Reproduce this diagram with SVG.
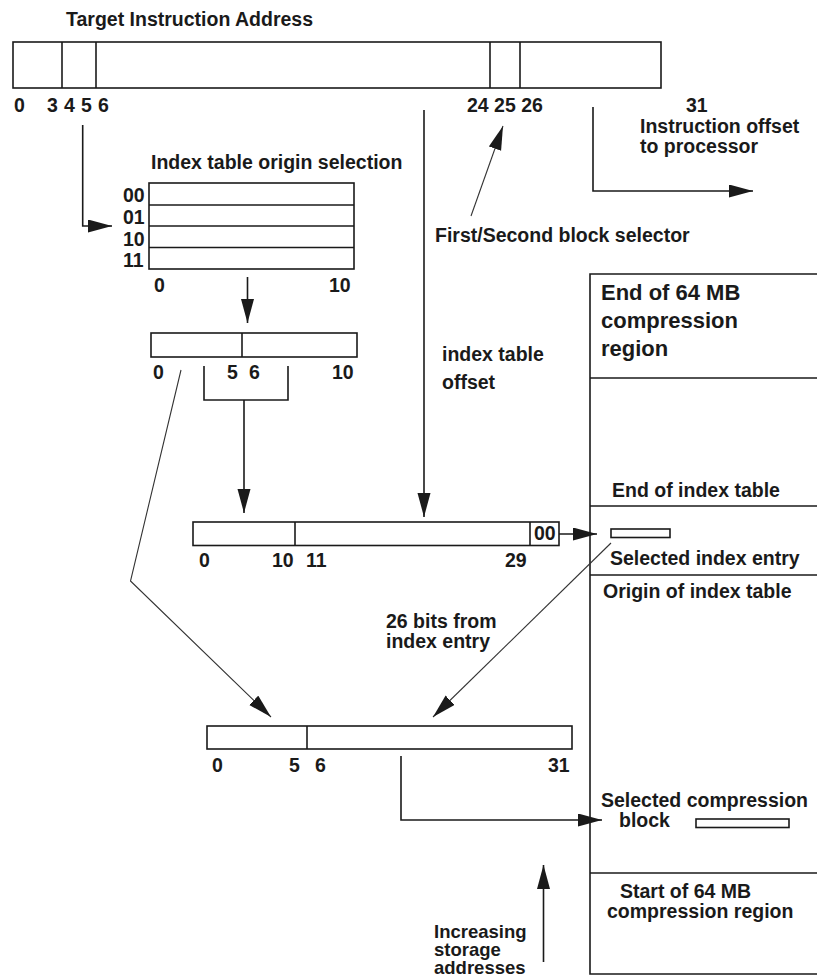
<svg xmlns="http://www.w3.org/2000/svg" width="817" height="979" viewBox="0 0 817 979">
<defs>
<style>
text { font-family: "Liberation Sans", Arial, sans-serif; font-size: 19.5px; font-weight: bold; fill: #1a1a1a; }
.big { font-size: 22px; }
.tight { font-size: 18.5px; }
.box { fill: #fff; stroke: #1a1a1a; stroke-width: 1.6; }
.ln { fill: none; stroke: #1a1a1a; stroke-width: 1.6; }
.thin { fill: none; stroke: #333; stroke-width: 1.1; }
</style>
<marker id="ah" markerUnits="userSpaceOnUse" markerWidth="26" markerHeight="14" refX="24" refY="6.5" orient="auto">
<path d="M0,0 L24,6.5 L0,13 Z" fill="#1a1a1a"/>
</marker>
</defs>
<rect width="817" height="979" fill="#fff"/>

<g id="target-address">
<text x="66" y="26">Target Instruction Address</text>
<rect class="box" x="13" y="42" width="648" height="46"/>
<line class="ln" x1="62" y1="42" x2="62" y2="88"/>
<line class="ln" x1="96" y1="42" x2="96" y2="88"/>
<line class="ln" x1="490" y1="42" x2="490" y2="88"/>
<line class="ln" x1="520" y1="42" x2="520" y2="88"/>
<text x="14" y="112">0</text>
<text x="47" y="112">3</text>
<text x="64" y="112">4</text>
<text x="81" y="112">5</text>
<text x="98" y="112">6</text>
<text x="467" y="112">24 25 26</text>
<text x="686" y="112">31</text>
</g>

<g id="instruction-offset-label">
<text x="640" y="133">Instruction offset</text>
<text x="640" y="153">to processor</text>
</g>

<g id="block-selector-label">
<text x="435" y="242">First/Second block selector</text>
</g>

<g id="index-table-origin">
<text x="151" y="169">Index table origin selection</text>
<rect class="box" x="149" y="183" width="205" height="86"/>
<line class="ln" x1="149" y1="205" x2="354" y2="205"/>
<line class="ln" x1="149" y1="226" x2="354" y2="226"/>
<line class="ln" x1="149" y1="247.5" x2="354" y2="247.5"/>
<text x="123" y="202">00</text>
<text x="123" y="224">01</text>
<text x="123" y="246">10</text>
<text x="123" y="267">11</text>
<text x="154" y="292">0</text>
<text x="329" y="292">10</text>
</g>

<g id="origin-field">
<rect class="box" x="151" y="333" width="206" height="24"/>
<line class="ln" x1="242" y1="333" x2="242" y2="357"/>
<text x="153" y="379">0</text>
<text x="227" y="379">5</text>
<text x="249" y="379">6</text>
<text x="332" y="379">10</text>
</g>

<g id="index-offset-label">
<text x="442" y="361">index table</text>
<text x="442" y="389">offset</text>
</g>

<g id="index-entry-address">
<rect class="box" x="193" y="522" width="366" height="23.5"/>
<line class="ln" x1="295" y1="522" x2="295" y2="545.5"/>
<line class="ln" x1="530" y1="522" x2="530" y2="545.5"/>
<text x="534" y="540">00</text>
<text x="199" y="567">0</text>
<text x="272" y="567">10</text>
<text x="306" y="567">11</text>
<text x="505" y="567">29</text>
</g>

<g id="bits-label">
<text x="386" y="628">26 bits from</text>
<text x="386" y="648">index entry</text>
</g>

<g id="compressed-address">
<rect class="box" x="207" y="726" width="365" height="23"/>
<line class="ln" x1="307" y1="726" x2="307" y2="749"/>
<text x="212" y="772">0</text>
<text x="289" y="772">5</text>
<text x="315" y="772">6</text>
<text x="548" y="772">31</text>
</g>

<g id="storage-label">
<text class="tight" x="434" y="938">Increasing</text>
<text class="tight" x="434" y="956">storage</text>
<text class="tight" x="434" y="974">addresses</text>
</g>

<g id="compression-region">
<path class="ln" d="M820,274 H590 V974 H820"/>
<line class="ln" x1="590" y1="378" x2="817" y2="378"/>
<line class="ln" x1="590" y1="506" x2="817" y2="506"/>
<line class="ln" x1="590" y1="575" x2="817" y2="575"/>
<line class="ln" x1="590" y1="873" x2="817" y2="873"/>
<text class="big" x="601" y="300">End of 64 MB</text>
<text class="big" x="601" y="328">compression</text>
<text class="big" x="601" y="356">region</text>
<text x="612" y="497">End of index table</text>
<rect class="box" x="611" y="529" width="59" height="8.5"/>
<text x="610" y="565">Selected index entry</text>
<text x="603" y="598">Origin of index table</text>
<text x="601" y="807">Selected compression</text>
<text x="619" y="827">block</text>
<rect class="box" x="696" y="819" width="93" height="8.5"/>
<text x="620" y="898">Start of 64 MB</text>
<text x="607" y="918">compression region</text>
</g>

<g id="connectors">
<polyline class="ln" points="82.7,125 82.7,226 112,226" marker-end="url(#ah)"/>
<line class="thin" x1="471" y1="216" x2="503" y2="126" marker-end="url(#ah)"/>
<polyline class="ln" points="593,107 593,191 753,191" marker-end="url(#ah)"/>
<line class="ln" x1="247.5" y1="277" x2="247.5" y2="323" marker-end="url(#ah)"/>
<line class="ln" x1="424" y1="110" x2="424" y2="517" marker-end="url(#ah)"/>
<polyline class="ln" points="204,366 204,400 288,400 288,366"/>
<line class="ln" x1="244" y1="400" x2="244" y2="513" marker-end="url(#ah)"/>
<polyline class="thin" points="181,370 130.5,581 271,717" marker-end="url(#ah)"/>
<line class="ln" x1="559" y1="534" x2="597" y2="534" marker-end="url(#ah)"/>
<line class="thin" x1="611" y1="543" x2="433" y2="717" marker-end="url(#ah)"/>
<polyline class="ln" points="401,756 401,820 602,820" marker-end="url(#ah)"/>
<line class="ln" x1="543.5" y1="962" x2="543.5" y2="865" marker-end="url(#ah)"/>
</g>
</svg>
